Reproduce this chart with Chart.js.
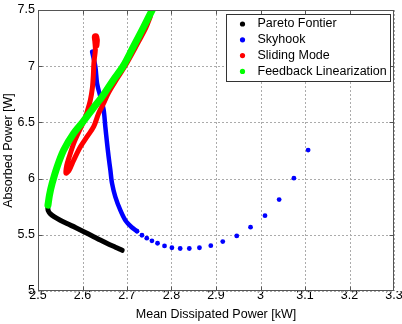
<!DOCTYPE html>
<html><head><meta charset="utf-8">
<script src="https://cdn.jsdelivr.net/npm/chart.js@4"></script>
<style>html,body{margin:0;padding:0;background:#fff}#wrap{width:402px;height:324px;position:relative}</style>
</head><body><div id="wrap"><canvas id="c"></canvas></div>
<script>
// ---- data ----
const seriesNames = ['Pareto Fontier', 'Skyhook', 'Sliding Mode', 'Feedback Linearization'];
const xTickLabels = ['2.5','2.6','2.7','2.8','2.9','3','3.1','3.2','3.3'];
const yTickLabels = ['5','5.5','6','6.5','7','7.5'];

const paretoX = [2.522, 2.523, 2.527, 2.536, 2.550, 2.565, 2.584, 2.603, 2.622, 2.640, 2.658, 2.674, 2.689];
const paretoY = [5.738, 5.715, 5.690, 5.662, 5.630, 5.600, 5.565, 5.528, 5.490, 5.453, 5.418, 5.390, 5.362];

const skyhookDenseX = [2.6215, 2.6289, 2.6327, 2.6401, 2.6475, 2.6513, 2.6552, 2.6587, 2.6626, 2.6664, 2.6738, 2.685, 2.6962, 2.7112];
const skyhookDenseY = [7.130, 6.996, 6.848, 6.729, 6.611, 6.462, 6.314, 6.194, 6.076, 5.957, 5.838, 5.719, 5.630, 5.565];
const skyhookDotsX = [2.7224, 2.7336, 2.7444, 2.756, 2.7686, 2.7843, 2.8009, 2.8195, 2.840, 2.8628, 2.8883, 2.9152, 2.9466, 2.9776, 3.0101, 3.0419, 3.0751, 3.107];
const skyhookDotsY = [5.532, 5.496, 5.470, 5.446, 5.425, 5.401, 5.385, 5.378, 5.378, 5.385, 5.403, 5.440, 5.490, 5.568, 5.670, 5.813, 6.004, 6.254];

const slidingX = [2.7522, 2.7422, 2.7209, 2.6984, 2.6771, 2.6581, 2.6475, 2.6363, 2.6251, 2.6103, 2.5953, 2.5803, 2.5691, 2.5628, 2.5646, 2.5691, 2.5803, 2.5953, 2.6043, 2.6103, 2.6177, 2.6222, 2.6244, 2.6256, 2.6289, 2.6278, 2.6267, 2.6312, 2.6334, 2.6323];
const slidingY = [7.439, 7.341, 7.181, 7.020, 6.887, 6.762, 6.670, 6.581, 6.462, 6.373, 6.283, 6.165, 6.067, 6.049, 6.120, 6.180, 6.314, 6.447, 6.521, 6.593, 6.700, 6.807, 6.922, 7.029, 7.145, 7.217, 7.266, 7.270, 7.234, 7.181];

const feedbackX = [2.5224, 2.5258, 2.5318, 2.5430, 2.5578, 2.5803, 2.6009, 2.6244, 2.6469, 2.6693, 2.6917, 2.7141, 2.7365, 2.7567];
const feedbackY = [5.764, 5.853, 5.957, 6.105, 6.254, 6.403, 6.504, 6.628, 6.744, 6.878, 7.003, 7.172, 7.342, 7.500];

// ---- build ----
const pts = (xs, ys) => xs.map((v, i) => ({x: v, y: ys[i]}));
const FONT = '"Liberation Sans", Arial, Helvetica, sans-serif';
Chart.defaults.font.family = FONT;
Chart.defaults.font.size = 12.5;
Chart.defaults.color = '#000';

const denseN = skyhookDenseX.length;
const lineDs = (label, data, color, width, order) => ({
  label, data, borderColor: color, backgroundColor: color, showLine: true,
  borderWidth: width, pointRadius: 0, tension: 0.3, order,
  borderCapStyle: 'round', borderJoinStyle: 'round'
});

const datasets = [
  lineDs(seriesNames[0], pts(paretoX, paretoY), '#000000', 5, 3),
  Object.assign(lineDs(seriesNames[1], pts(skyhookDenseX.concat(skyhookDotsX), skyhookDenseY.concat(skyhookDotsY)), '#0000ff', 4.5, 2), {
    pointRadius: ctx => ctx.dataIndex >= denseN ? 2.4 : 0,
    pointBorderWidth: 0,
    segment: { borderColor: ctx => ctx.p0DataIndex >= denseN ? 'rgba(0,0,0,0)' : undefined }
  }),
  lineDs(seriesNames[2], pts(slidingX, slidingY), '#ff0000', 5, 1),
  lineDs(seriesNames[3], pts(feedbackX, feedbackY), '#00ff00', 7, 0)
];

const dottedGrid = {
  id: 'dottedGrid',
  beforeDatasetsDraw(chart) {
    const {ctx, chartArea: a, scales} = chart;
    ctx.save();
    ctx.strokeStyle = '#ababab'; ctx.lineWidth = 1; ctx.setLineDash([2, 2]);
    ctx.beginPath();
    scales.x.ticks.forEach(t => {
      const p = Math.round(scales.x.getPixelForValue(t.value)) + 0.5;
      ctx.moveTo(p, a.top); ctx.lineTo(p, a.bottom);
    });
    scales.y.ticks.forEach(t => {
      const p = Math.round(scales.y.getPixelForValue(t.value)) + 0.5;
      ctx.moveTo(a.left, p); ctx.lineTo(a.right, p);
    });
    ctx.stroke();
    ctx.restore();
  }
};

const frameLegend = {
  id: 'frameLegend',
  afterDatasetsDraw(chart) {
    const {ctx, chartArea: a, scales} = chart;
    ctx.save();
    ctx.setLineDash([]);
    ctx.strokeStyle = '#555'; ctx.lineWidth = 1;
    const L = Math.round(a.left) + 0.5, R = Math.round(a.right) - 0.5, T = Math.round(a.top) + 0.5, B = Math.round(a.bottom) - 0.5;
    ctx.strokeRect(L, T, R - L, B - T);
    ctx.beginPath();
    scales.x.ticks.forEach((t, i, arr) => {
      if (i === 0 || i === arr.length - 1) return;
      const p = Math.round(scales.x.getPixelForValue(t.value)) + 0.5;
      ctx.moveTo(p, B); ctx.lineTo(p, B - 4); ctx.moveTo(p, T); ctx.lineTo(p, T + 4);
    });
    scales.y.ticks.forEach((t, i, arr) => {
      if (i === 0 || i === arr.length - 1) return;
      const p = Math.round(scales.y.getPixelForValue(t.value)) + 0.5;
      ctx.moveTo(L, p); ctx.lineTo(L + 4, p); ctx.moveTo(R, p); ctx.lineTo(R - 4, p);
    });
    ctx.stroke();
    // legend box
    const ds = chart.data.datasets;
    ctx.font = '12.5px ' + FONT;
    const tw = Math.max(...ds.map(d => ctx.measureText(d.label).width));
    const w = Math.round(31 + tw + 4), h = 67;
    const x0 = Math.round(a.right - 4 - w) + 0.5, y0 = Math.round(a.top + 4) + 0.5;
    ctx.fillStyle = '#fff'; ctx.fillRect(x0, y0, w, h);
    ctx.strokeStyle = '#333'; ctx.strokeRect(x0, y0, w, h);
    ds.forEach((d, i) => {
      const cy = y0 + 9.5 + 15.8 * i;
      ctx.fillStyle = d.borderColor;
      ctx.beginPath(); ctx.arc(x0 + 16, cy, 2.6, 0, 2 * Math.PI); ctx.fill();
      ctx.fillStyle = '#000'; ctx.textBaseline = 'middle'; ctx.textAlign = 'left';
      ctx.fillText(d.label, x0 + 31, cy);
    });
    ctx.restore();
  }
};

new Chart(document.getElementById('c'), {
  type: 'scatter',
  data: { datasets },
  options: {
    responsive: true, maintainAspectRatio: false, animation: false,
    layout: { padding: { top: 10, right: 8, left: 0, bottom: 0 } },
    plugins: { legend: { display: false }, tooltip: { enabled: false } },
    scales: {
      x: {
        type: 'linear', min: 2.5, max: 3.3,
        ticks: { stepSize: 0.1, padding: -3, callback: (v, i) => xTickLabels[i] },
        grid: { display: false, drawTicks: false },
        border: { display: false },
        title: { display: true, text: 'Mean Dissipated Power [kW]', padding: { top: 0, bottom: 1.5 }, font: { size: 12.5 } },
        afterFit: s => { s.height = 33; s.paddingLeft = 0; s.paddingRight = 0; }
      },
      y: {
        type: 'linear', min: 5, max: 7.5,
        ticks: { stepSize: 0.5, padding: 3, callback: (v, i) => yTickLabels[i] },
        grid: { display: false, drawTicks: false },
        border: { display: false },
        title: { display: true, text: 'Absorbed Power [W]', padding: { top: 1, bottom: 0 }, font: { size: 12.5 } },
        afterFit: s => { s.width = 38; s.paddingTop = 0; s.paddingBottom = 0; }
      }
    }
  },
  plugins: [dottedGrid, frameLegend]
});
</script>
</body></html>
